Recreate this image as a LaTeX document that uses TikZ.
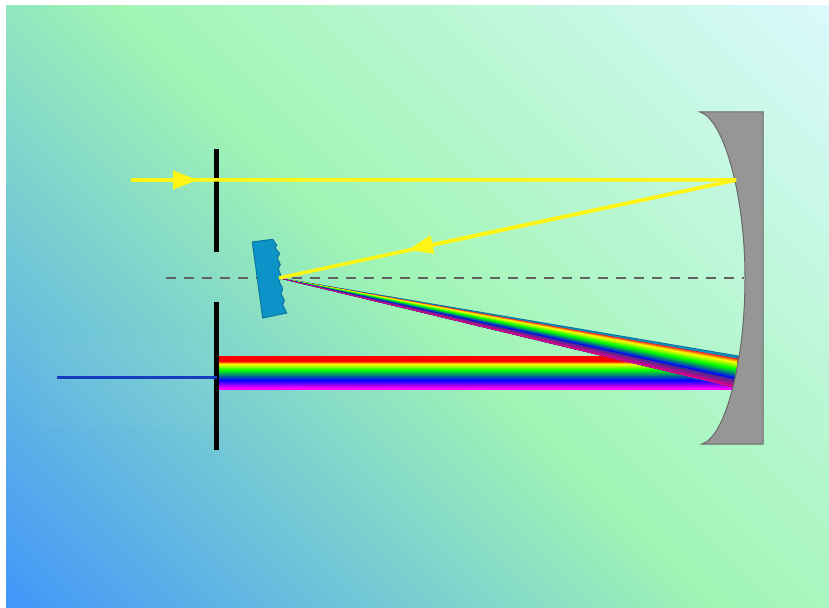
\documentclass[tikz,border=0pt]{standalone}
\usepackage{amsmath}
\usetikzlibrary{arrows.meta}
\definecolor{FondoA}{RGB}{66, 150, 250}
\definecolor{FondoB}{RGB}{160, 245, 180}
\definecolor{FondoC}{RGB}{218, 249, 252}
\definecolor{Red}{RGB}{12, 148, 200}
\definecolor{Espejo}{RGB}{150, 150, 150}
\definecolor{Rayo}{RGB}{255, 245, 20}
\definecolor{Azul}{RGB}{20, 60, 190}
\pgfdeclarehorizontalshading{fondograd}{100bp}{color(0bp)=(FondoA); color(25bp)=(FondoA); color(50bp)=(FondoB); color(75bp)=(FondoC); color(100bp)=(FondoC)}
\pgfdeclareverticalshading{arcoiris}{100bp}{color(0bp)=(magenta); color(26.5bp)=(magenta); color(38.6bp)=(blue); color(53.8bp)=(green); color(62.9bp)=(yellow); color(67.4bp)=(red); color(100bp)=(red)}

\begin{document}
\begin{tikzpicture}[
        x=0.02cm, y=-0.02cm,
        rayo/.style={draw=Rayo, line width=0.07cm, line join=bevel},
        punta/.style={-{Triangle[length=0.5cm, width=0.36cm]}},
        rendija/.style={draw=black, line width=0.087cm},
        espejo/.style={fill=Espejo, draw=Espejo!70!black, line width=0.02cm},
        red/.style={fill=Red, draw=Red!80!black, line width=0.02cm}
    ]
        \useasboundingbox (0,0) rectangle (829,608);
        \fill[white] (0,0) rectangle (829,608);

        % Fondo con degradado diagonal
        \begin{scope}
            \clip (6,6) rectangle (829,608);
            \shade[shading=fondograd, shading angle=45] (-87,-197) rectangle (922,812);
        \end{scope}
        \fill[white, opacity=0.025] (40,340) rectangle (214,427);

        % Puntos de los rayos
        \coordinate (entrada) at (131,180);
        \coordinate (tope) at (736,180);
        \coordinate (apice) at (279,278);
        \coordinate (salida) at (57,377);
        \coordinate (foco) at (217,377);

        % Eje optico
        \draw[draw=black!35!Espejo, line width=0.028cm, dash pattern=on 0.21cm off 0.15cm] (166,278) -- (744,278);

        % Haz paralelo hacia la rendija
        \shade[shading=arcoiris] (219,356) rectangle (745,389);

        % Abanico desde la red hasta el espejo
        \fill[red] (apice) -- (738,356) -- (733,387) -- cycle;
        \foreach \desde/\hasta/\ini/\fin in {red/yellow/0.08/0.2, yellow/green/0.2/0.42, green/blue/0.42/0.72, blue/magenta/0.72/1} {
            \foreach \i in {0,...,12} {
                \pgfmathsetmacro{\pos}{\ini+(\fin-\ini)*\i/12}
                \pgfmathsetmacro{\fy}{356+31*\pos}
                \pgfmathsetmacro{\fx}{738-5*\pos}
                \pgfmathsetmacro{\mezcla}{100*\i/12}
                \colorlet{Banda}{\hasta!\mezcla!\desde}
                \fill[Banda] (apice) -- (\fx,\fy) -- (733,387) -- cycle;
            }
        }

        % Espejo
        \draw[espejo] (700,112) -- (763,112) -- (763,444) -- (702,444) .. controls (724,438) and (745,366) .. (745,278) .. controls (745,190) and (722,118) .. (700,112) -- cycle;

        % Red de difraccion
        \draw[red] (252.3,242) -- (272.7,239.3) -- (276.7,245.3) -- (275,247.7) -- (279.7,253.7) -- (277.3,258) -- (280.3,264.7) -- (278.3,268.7) -- (281,276) -- (279.3,282) -- (282.7,288.7) -- (281,293.7) -- (284.3,300.3) -- (282.7,304.7) -- (286.7,313) -- (262.7,318) -- cycle;

        % Rendijas
        \draw[rendija] (216.5,149) -- (216.5,252);
        \draw[rendija] (216.5,302) -- (216.5,450);

        % Rayos amarillos
        \draw[rayo] (entrada) -- (tope) -- (apice);
        \path[rayo, punta] (entrada) -- (198,180);
        \path[rayo, punta] (tope) -- (408,249.8);

        % Salida azul
        \draw[draw=Azul, line width=0.06cm] (salida) -- (foco);
\end{tikzpicture}
\end{document}
